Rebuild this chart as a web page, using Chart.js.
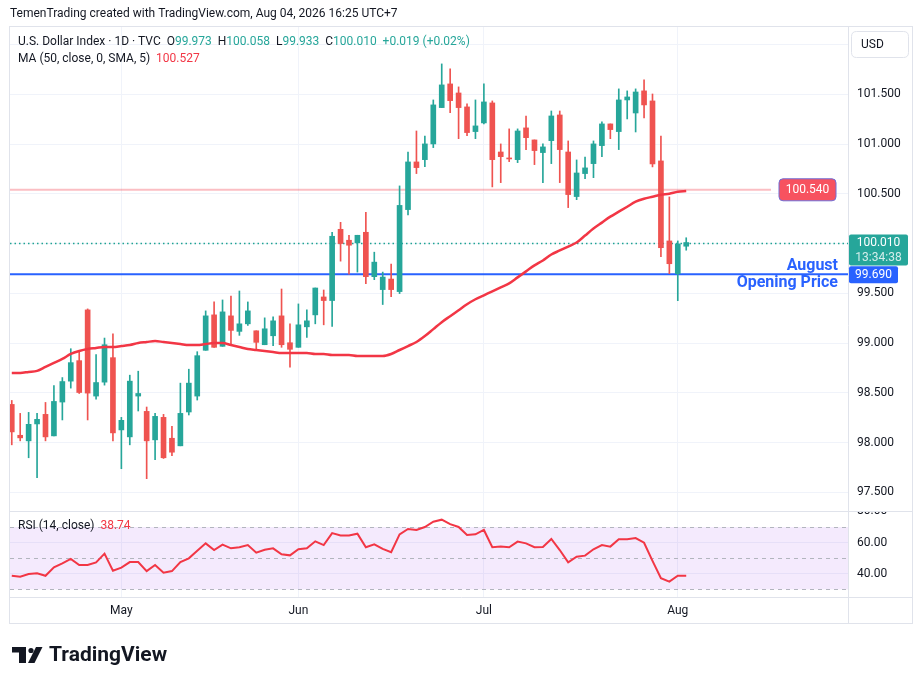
<!DOCTYPE html>
<html>
<head>
<meta charset="utf-8">
<title>U.S. Dollar Index 1D</title>
<script src="https://cdn.jsdelivr.net/npm/chart.js@4.4.1/dist/chart.umd.min.js"></script>
<style>
  html, body { margin: 0; padding: 0; background: #fff; }
  #wrap { position: relative; width: 923px; height: 685px; }
</style>
</head>
<body>
<div id="wrap"><canvas id="chart" width="923" height="685"></canvas></div>
<script>
// daily candles, one per trading day (Apr 14 .. Aug 4, 2026)
const opens = [
  98.383, 98.073, 98.017, 98.187, 98.283, 98.067, 98.407, 98.617, 98.823, 99.333,
  98.467, 98.607, 98.853, 98.127, 98.057, 98.467, 98.313, 98.027, 98.253, 98.043,
  97.967, 98.307, 98.467, 98.927, 99.283, 98.967, 99.273, 99.117, 99.193, 99.123,
  98.983, 99.073, 99.273, 99.003, 98.957, 99.163, 99.283, 99.463, 99.427, 100.143,
  100.033, 100.007, 100.113, 99.667, 99.537, 99.643, 99.517, 100.341, 100.820, 100.843,
  101.001, 101.366, 101.604, 101.513, 101.373, 101.125, 101.212, 101.413, 100.920, 100.860,
  100.843, 101.162, 101.041, 100.914, 101.034, 101.292, 100.920, 100.472, 100.703, 100.803,
  100.984, 101.202, 101.125, 101.443, 101.312, 101.534, 101.433, 100.830, 100.026, 99.697,
  99.973
];
const highs = [
  98.423, 98.293, 98.303, 98.293, 98.403, 98.573, 98.653, 98.943, 98.923, 99.343,
  98.883, 99.050, 99.093, 98.253, 98.677, 98.717, 98.357, 98.293, 98.283, 98.163,
  98.597, 98.737, 98.913, 99.323, 99.413, 99.433, 99.473, 99.523, 99.413, 99.123,
  99.253, 99.263, 99.543, 99.193, 99.393, 99.333, 99.553, 99.533, 100.113, 100.213,
  100.083, 100.083, 100.313, 99.913, 99.713, 99.793, 100.579, 100.920, 101.131, 101.081,
  101.443, 101.805, 101.755, 101.574, 101.403, 101.443, 101.604, 101.433, 101.001, 101.152,
  101.152, 101.282, 101.041, 101.001, 101.332, 101.332, 101.031, 100.840, 100.870, 101.031,
  101.222, 101.202, 101.554, 101.534, 101.554, 101.644, 101.503, 101.081, 100.468, 100.026,
  100.058
];
const lows = [
  97.977, 98.017, 97.847, 97.647, 98.017, 98.067, 98.227, 98.547, 98.493, 98.227,
  98.437, 98.577, 98.017, 97.737, 97.977, 98.317, 97.637, 97.827, 97.840, 97.867,
  97.967, 98.277, 98.427, 98.927, 98.957, 98.967, 98.977, 99.077, 99.177, 98.927,
  98.983, 98.973, 98.957, 98.757, 98.957, 99.057, 99.193, 99.183, 99.167, 99.823,
  99.693, 99.713, 99.597, 99.637, 99.387, 99.467, 99.497, 100.287, 100.703, 100.773,
  100.964, 101.366, 101.316, 101.054, 101.085, 101.054, 101.202, 100.569, 100.612, 100.823,
  100.813, 100.944, 100.793, 100.612, 100.803, 100.612, 100.361, 100.441, 100.652, 100.662,
  100.874, 101.054, 100.944, 101.252, 101.121, 101.262, 100.770, 99.868, 99.697, 99.426,
  99.933
];
const closes = [
  98.107, 98.047, 98.183, 98.233, 98.057, 98.413, 98.613, 98.803, 98.503, 98.497,
  98.603, 98.983, 98.097, 98.223, 98.617, 98.493, 98.017, 98.263, 97.847, 97.903,
  98.293, 98.597, 98.873, 99.273, 98.957, 99.313, 99.127, 99.193, 99.323, 99.007,
  99.143, 99.223, 98.983, 98.937, 99.183, 99.223, 99.553, 99.427, 100.073, 100.000,
  99.983, 100.083, 99.667, 99.813, 99.663, 99.537, 100.383, 100.820, 100.763, 101.001,
  101.393, 101.594, 101.436, 101.366, 101.115, 101.182, 101.423, 100.843, 100.873, 100.850,
  101.131, 101.064, 100.934, 100.971, 101.282, 100.944, 100.492, 100.709, 100.760, 101.001,
  101.202, 101.145, 101.443, 101.473, 101.523, 101.393, 100.800, 99.958, 99.797, 99.996,
  100.010
];

// MA (50, close, 0, SMA, 5)
const ma50 = [
  98.70, 98.70, 98.71, 98.72, 98.76, 98.80, 98.84, 98.89, 98.92, 98.94,
  98.95, 98.96, 98.96, 98.97, 98.98, 99.00, 99.01, 99.02, 99.01, 99.00,
  98.99, 98.98, 98.98, 98.99, 99.00, 99.00, 98.98, 98.96, 98.94, 98.93,
  98.92, 98.91, 98.90, 98.90, 98.90, 98.90, 98.89, 98.89, 98.88, 98.88,
  98.88, 98.87, 98.87, 98.87, 98.87, 98.89, 98.93, 98.97, 99.01, 99.07,
  99.14, 99.21, 99.27, 99.33, 99.39, 99.44, 99.48, 99.52, 99.56, 99.60,
  99.66, 99.72, 99.78, 99.83, 99.89, 99.93, 99.97, 100.01, 100.08, 100.15,
  100.21, 100.27, 100.32, 100.37, 100.42, 100.45, 100.47, 100.49, 100.50, 100.52,
  100.527
];

// RSI (14, close)
const rsi14 = [
  38.7, 38.1, 39.8, 40.3, 38.7, 44.1, 46.7, 49.5, 45.6, 45.6,
  47.3, 52.9, 41.9, 43.9, 47.5, 47.5, 41.7, 45.6, 40.7, 41.7,
  47.5, 49.9, 54.8, 59.5, 55.2, 58.7, 56.3, 57.0, 58.4, 53.5,
  55.4, 56.3, 52.5, 51.8, 55.7, 56.3, 60.8, 58.4, 66.1, 64.6,
  64.6, 65.7, 57.0, 58.9, 55.9, 53.8, 65.3, 68.7, 68.1, 70.0,
  73.4, 74.7, 71.8, 70.0, 64.9, 65.3, 68.1, 57.0, 57.4, 57.0,
  60.6, 59.5, 57.0, 57.2, 62.3, 55.2, 47.3, 50.9, 51.6, 55.7,
  58.4, 57.4, 62.1, 62.1, 62.9, 59.9, 48.2, 37.1, 34.9, 38.7,
  38.74
];

// axes
const priceTicks = [97.5, 98, 98.5, 99, 99.5, 100, 100.5, 101, 101.5, 102];
const rsiTicks = [40, 60, 80];
const rsiLevels = [70, 50, 30];
const monthTickIdx = [13, 34, 56, 79];
const monthTickLabels = ['May', 'Jun', 'Jul', 'Aug'];

// drawn levels
const resistanceLevel = 100.540;
const lastPrice = 100.010;
const augustOpen = 99.690;

const UP = '#26a69a';
const DOWN = '#ef5350';
const TEXT = '#131722';
const GRID = '#f0f3fa';
const FONT = 'Roboto, "Noto Sans", sans-serif';

const candleColors = opens.map((o, i) => closes[i] >= o ? UP : DOWN);

function roundRect(ctx, x, y, w, h, r) {
  ctx.beginPath();
  ctx.moveTo(x + r, y);
  ctx.lineTo(x + w - r, y);
  ctx.quadraticCurveTo(x + w, y, x + w, y + r);
  ctx.lineTo(x + w, y + h - r);
  ctx.quadraticCurveTo(x + w, y + h, x + w - r, y + h);
  ctx.lineTo(x + r, y + h);
  ctx.quadraticCurveTo(x, y + h, x, y + h - r);
  ctx.lineTo(x, y + r);
  ctx.quadraticCurveTo(x, y, x + r, y);
  ctx.closePath();
}

// writes a row of coloured text pieces from left to right
function textRun(ctx, x, y, parts, font) {
  ctx.font = font;
  ctx.textAlign = 'left';
  ctx.textBaseline = 'middle';
  parts.forEach(([t, c]) => {
    ctx.fillStyle = c;
    ctx.fillText(t, x, y);
    x += ctx.measureText(t).width;
  });
}

const tvOverlay = {
  id: 'tvOverlay',
  beforeDatasetsDraw(chart) {
    const {ctx, chartArea: a, scales: {y, yRsi}} = chart;
    ctx.save();
    // RSI background band
    const r70 = yRsi.getPixelForValue(70), r30 = yRsi.getPixelForValue(30);
    ctx.fillStyle = 'rgba(149, 52, 235, 0.1)';
    ctx.fillRect(a.left, r70, a.right - a.left, r30 - r70);
    ctx.strokeStyle = '#b2b5be';
    ctx.lineWidth = 1;
    ctx.setLineDash([4, 4]);
    rsiLevels.forEach(v => {
      const py = Math.round(yRsi.getPixelForValue(v)) + 0.5;
      ctx.beginPath(); ctx.moveTo(a.left, py); ctx.lineTo(a.right, py); ctx.stroke();
    });
    // last price dotted line
    ctx.strokeStyle = '#1fa393';
    ctx.lineWidth = 1.5;
    ctx.setLineDash([1.5, 3]);
    let py = Math.round(y.getPixelForValue(lastPrice)) + 0.5;
    ctx.beginPath(); ctx.moveTo(a.left, py); ctx.lineTo(a.right, py); ctx.stroke();
    ctx.setLineDash([]);
    // resistance
    ctx.strokeStyle = 'rgba(242, 54, 69, 0.32)';
    ctx.lineWidth = 2;
    py = y.getPixelForValue(resistanceLevel);
    ctx.beginPath(); ctx.moveTo(a.left, py); ctx.lineTo(771, py); ctx.stroke();
    // august open
    ctx.strokeStyle = '#2962ff';
    py = y.getPixelForValue(augustOpen);
    ctx.beginPath(); ctx.moveTo(a.left, py); ctx.lineTo(a.right, py); ctx.stroke();
    ctx.restore();
  },
  afterDraw(chart) {
    const {ctx, chartArea: a, scales: {y}} = chart;
    ctx.save();
    // cut the top half of the 80.00 label like the pane edge does
    ctx.fillStyle = '#fff';
    ctx.fillRect(a.right + 1, 498, 64, 13);

    // frame and pane separators
    ctx.strokeStyle = '#e0e3eb';
    ctx.lineWidth = 1;
    ctx.strokeRect(9.5, 26.5, 903, 597);
    ctx.beginPath();
    ctx.moveTo(a.right + 0.5, 27); ctx.lineTo(a.right + 0.5, 624);
    ctx.moveTo(10, 511.5); ctx.lineTo(913, 511.5);
    ctx.moveTo(10, a.bottom + 0.5); ctx.lineTo(913, a.bottom + 0.5);
    ctx.stroke();

    // header and legends
    textRun(ctx, 10, 14, [['TemenTrading created with TradingView.com, Aug 04, 2026 16:25 UTC+7', TEXT]], '12px ' + FONT);
    textRun(ctx, 18, 42, [
      ['U.S. Dollar Index · 1D · TVC  O', TEXT], ['99.973', UP],
      ['  H', TEXT], ['100.058', UP], ['  L', TEXT], ['99.933', UP],
      ['  C', TEXT], ['100.010', UP], ['  +0.019 (+0.02%)', UP]
    ], '12px ' + FONT);
    textRun(ctx, 18, 59, [['MA (50, close, 0, SMA, 5)  ', TEXT], ['100.527', '#f23645']], '12px ' + FONT);
    textRun(ctx, 18, 526, [['RSI (14, close)  ', TEXT], ['38.74', '#f23645']], '12px ' + FONT);

    // currency box
    ctx.strokeStyle = '#e0e3eb';
    roundRect(ctx, 851.5, 31.5, 57, 26, 5);
    ctx.fillStyle = '#fff'; ctx.fill(); ctx.stroke();
    textRun(ctx, 861, 45, [['USD', TEXT]], '12px ' + FONT);

    // resistance label on the chart
    let py = y.getPixelForValue(resistanceLevel);
    roundRect(ctx, 779, py - 11, 57, 22, 4);
    ctx.fillStyle = '#f7525f'; ctx.fill();
    ctx.strokeStyle = '#6f6fd8'; ctx.lineWidth = 1; ctx.stroke();
    ctx.fillStyle = '#fff';
    ctx.font = '12px ' + FONT;
    ctx.textAlign = 'center';
    ctx.textBaseline = 'middle';
    ctx.fillText(resistanceLevel.toFixed(3), 807.5, py);

    // last price label on the axis
    py = y.getPixelForValue(lastPrice);
    roundRect(ctx, a.right + 1, py - 8, 59, 31, 2);
    ctx.fillStyle = UP; ctx.fill();
    ctx.fillStyle = '#fff';
    ctx.fillText(lastPrice.toFixed(3), a.right + 30.5, py);
    ctx.fillStyle = 'rgba(255,255,255,0.8)';
    ctx.fillText('13:34:38', a.right + 30.5, py + 15);

    // august open label on the axis
    py = y.getPixelForValue(augustOpen);
    roundRect(ctx, a.right + 1, py - 8, 49, 17, 2);
    ctx.fillStyle = '#2962ff'; ctx.fill();
    ctx.fillStyle = '#fff';
    ctx.fillText(augustOpen.toFixed(3), a.right + 25.5, py + 0.5);

    // annotation text
    ctx.fillStyle = '#2962ff';
    ctx.font = 'bold 16px ' + FONT;
    ctx.textAlign = 'right';
    ctx.fillText('August', 838, py - 8);
    ctx.fillText('Opening Price', 838, py + 9);

    // TradingView logo
    ctx.fillStyle = TEXT;
    ctx.fillRect(12, 647, 14, 5.5);
    ctx.fillRect(19, 647, 7, 16);
    ctx.beginPath(); ctx.arc(31, 650.5, 2.6, 0, Math.PI * 2); ctx.fill();
    ctx.beginPath();
    ctx.moveTo(36, 647); ctx.lineTo(42.5, 647); ctx.lineTo(34.5, 663); ctx.lineTo(28, 663);
    ctx.closePath(); ctx.fill();
    ctx.font = 'bold 21px ' + FONT;
    ctx.textAlign = 'left';
    ctx.fillText('TradingView', 49, 656);
    ctx.restore();
  }
};

const ctx = document.getElementById('chart').getContext('2d');
new Chart(ctx, {
  data: {
    datasets: [
      {
        type: 'bar',
        label: 'wicks',
        data: lows.map((l, i) => ({x: i, y: [l, highs[i]]})),
        backgroundColor: candleColors,
        barThickness: 1,
        grouped: false,
        yAxisID: 'y',
        order: 4
      },
      {
        type: 'bar',
        label: 'bodies',
        data: opens.map((o, i) => ({x: i, y: [o, closes[i]]})),
        backgroundColor: candleColors,
        barThickness: 5,
        minBarLength: 1,
        grouped: false,
        yAxisID: 'y',
        order: 3
      },
      {
        type: 'line',
        label: 'MA 50',
        data: ma50.map((v, i) => ({x: i, y: v})),
        borderColor: '#f23645',
        borderWidth: 2.5,
        pointRadius: 0,
        cubicInterpolationMode: 'monotone',
        yAxisID: 'y',
        order: 2
      },
      {
        type: 'line',
        label: 'RSI 14',
        data: rsi14.map((v, i) => ({x: i, y: v})),
        borderColor: '#f23645',
        borderWidth: 2,
        pointRadius: 0,
        yAxisID: 'yRsi',
        order: 1
      }
    ]
  },
  options: {
    responsive: false,
    animation: false,
    devicePixelRatio: 1,
    layout: { padding: { left: 10, top: 27, right: 10, bottom: 61 } },
    plugins: { legend: { display: false }, tooltip: { enabled: false } },
    scales: {
      x: {
        type: 'linear',
        min: -0.21,
        max: 99.19,
        offset: false,
        bounds: 'data',
        grid: { color: GRID, drawTicks: false, offset: false },
        border: { display: false },
        afterBuildTicks: s => { s.ticks = monthTickIdx.map(v => ({value: v})); },
        afterFit: s => { s.height = 27; },
        ticks: {
          padding: 7,
          maxRotation: 0,
          autoSkip: false,
          color: TEXT,
          font: { family: FONT, size: 12 },
          callback: v => monthTickLabels[monthTickIdx.indexOf(v)]
        }
      },
      y: {
        type: 'linear',
        position: 'right',
        stack: 'panes',
        stackWeight: 484,
        min: 97.312,
        max: 102.176,
        grid: { color: GRID, drawTicks: false },
        border: { display: false },
        afterBuildTicks: s => { s.ticks = priceTicks.map(v => ({value: v})); },
        afterFit: s => { s.width = 65; },
        ticks: {
          padding: 9,
          color: TEXT,
          font: { family: FONT, size: 12 },
          callback: v => v.toFixed(3)
        }
      },
      yRsi: {
        type: 'linear',
        position: 'right',
        stack: 'panes',
        stackWeight: 86,
        min: 25.06,
        max: 80.27,
        grid: { color: GRID, drawTicks: false },
        border: { display: false },
        afterBuildTicks: s => { s.ticks = rsiTicks.map(v => ({value: v})); },
        afterFit: s => { s.width = 65; },
        ticks: {
          padding: 9,
          color: TEXT,
          font: { family: FONT, size: 12 },
          callback: v => v.toFixed(2)
        }
      }
    }
  },
  plugins: [tvOverlay]
});
</script>
</body>
</html>
